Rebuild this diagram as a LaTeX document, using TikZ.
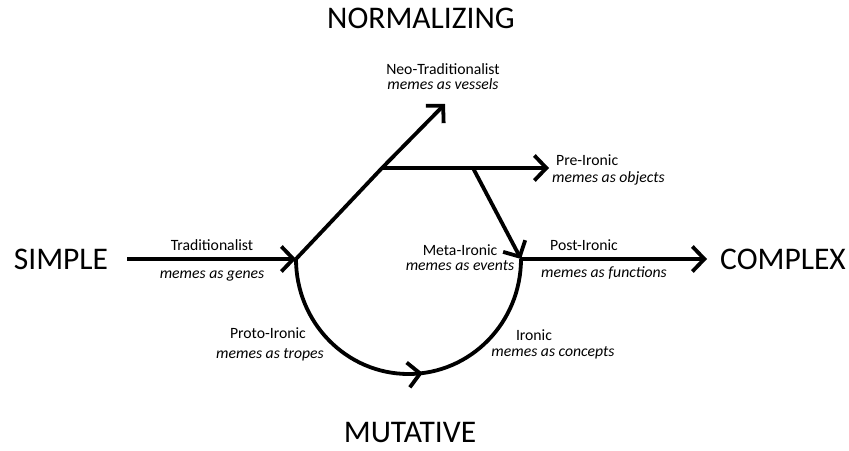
\documentclass[tikz,border=0pt]{standalone}
\usepackage{fontspec}
\setmainfont{Carlito}
\usetikzlibrary{arrows.meta,decorations.markings}
\begin{document}
\begin{tikzpicture}[x=1pt,y=-1pt,
  conn/.style={line width=3.8pt,-{Straight Barb[length=12pt,width=25pt]}},
  plain/.style={line width=3.8pt},
  big/.style={font=\fontsize{31.5}{34}\selectfont, inner sep=0pt, anchor=base},
  lab/.style={font=\fontsize{15.7}{17}\selectfont, inner sep=0pt, align=center}]
\useasboundingbox (0,0) rectangle (849,450);
% coordinates
\coordinate (S) at (127,259);
\coordinate (J1) at (296,259);
\coordinate (J2) at (382,168);
\coordinate (N) at (445,104);
\coordinate (B) at (473,168);
\coordinate (P) at (549,168);
\coordinate (M) at (521,259);
\coordinate (C) at (707,259);
% big labels
\node[big] (norm) at (421,28) {NORMALIZING};
\node[big] (simple) at (61,269) {SIMPLE};
\node[big] (complex) at (783,269) {COMPLEX};
\node[big] (mut) at (410,442) {MUTATIVE};
% connectors
\draw[conn] (S) -- (J1);
\draw[conn] (J1) -- (J2) -- (N);
\draw[conn] (J2) -- (P);
\draw[conn] (B) -- (M);
\draw[conn] (M) -- (C);
\draw[plain, postaction={decorate}, decoration={markings,
  mark=at position 0.54 with {\arrow{Straight Barb[length=12pt,width=25pt]}}}]
  (J1) arc[start angle=180, end angle=360, x radius=112.5, y radius=-115];
% small labels
\node[lab] (trad) at (212,245) {Traditionalist};
\node[lab] (tradm) at (212,276) {\itshape memes as genes};
\node[lab] (neo) at (443,77) {Neo-Traditionalist\\[-2pt]\itshape memes as vessels};
\node[lab, anchor=west] (pre) at (556,160) {Pre-Ironic};
\node[lab, anchor=west] (prem) at (552,178) {\itshape memes as objects};
\node[lab] (meta) at (460,258) {Meta-Ironic\\[-2pt]\itshape memes as events};
\node[lab] (post) at (584,245) {Post-Ironic};
\node[lab] (postm) at (604,273) {\itshape memes as functions};
\node[lab] (proto) at (268,333) {Proto-Ironic};
\node[lab] (protom) at (270,355) {\itshape memes as tropes};
\node[lab] (iron) at (534,335) {Ironic};
\node[lab] (ironm) at (553,353) {\itshape memes as concepts};
\end{tikzpicture}
\end{document}
